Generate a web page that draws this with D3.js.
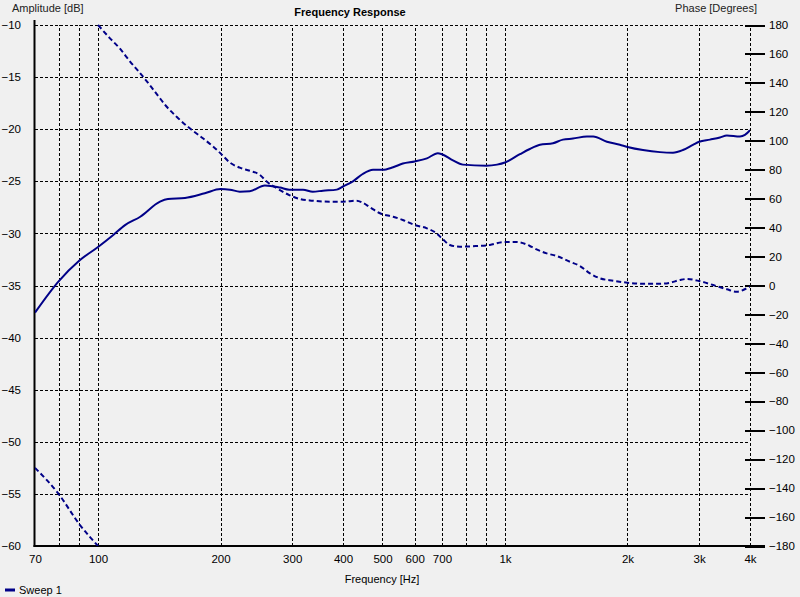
<!DOCTYPE html>
<html><head><meta charset="utf-8">
<script src="https://cdn.jsdelivr.net/npm/d3@7"></script>
<style>
html,body{margin:0;padding:0;background:#f0f0f0;}
svg{display:block;font-family:"Liberation Sans",Arial,sans-serif;}
</style></head>
<body><svg id="c" width="800" height="597"></svg>
<script>
// ---- data ----
const ampFreq = [70,80,90,100,109,116.5,127,142,148.5,163.5,183,200,211,223,236,257,280,295,319,337,357,386,400,423,447,474,500,531,561,600,643,684,700,745,788,900,956,1000,1088,1151,1219,1312,1388,1469,1590,1647,1780,1916,2000,2183,2403,2587,2736,2896,3000,3189,3374,3509,3779,3887,4000];
const ampDb = [-37.6,-34.6,-32.6,-31.3,-30.15,-29.2,-28.4,-26.95,-26.7,-26.6,-26.15,-25.75,-25.8,-26.0,-25.96,-25.4,-25.6,-25.8,-25.8,-26.0,-25.9,-25.8,-25.5,-25.0,-24.3,-23.9,-23.9,-23.65,-23.3,-23.1,-22.8,-22.3,-22.4,-23.0,-23.4,-23.5,-23.4,-23.2,-22.4,-21.9,-21.5,-21.35,-21.0,-20.9,-20.7,-20.7,-21.2,-21.5,-21.7,-22.0,-22.2,-22.25,-22.0,-21.5,-21.2,-21.0,-20.8,-20.6,-20.7,-20.55,-20.1];

const phaseLowFreq = [70,80,90,100];
const phaseLowDeg = [-126,-144,-165,-180];

const phaseFreq = [100,107,113,120,127,134,142,147.5,156,168,181,192,200,211,223,236,250,260,275,295,313,337,371,400,432,447,466,493,531,561,600,643,679,700,732,775,852,918,990,1068,1151,1173,1266,1339,1444,1528,1617,1711,1846,2000,2183,2403,2543,2691,2795,3000,3248,3509,3709,3923,4000];
const phaseDeg = [180,170.8,163.9,154.6,146.6,138.5,129.3,123.5,116.6,108.6,101.7,95.9,91.3,84.9,81.4,79.3,76.4,71.7,67.2,62.5,59.8,58.6,57.9,57.9,58.6,57.2,54,49.9,47.5,45.3,41.8,39.5,36,32.6,28,26.8,27.3,28,30,30,27.3,26.1,22.2,20.4,16.4,13.5,8.4,5.0,3.3,1.9,1.2,1.2,1.9,3.8,4.5,3.1,0.3,-2.6,-4.3,-2.0,-0.8];

const gridFreq = [80,90,100,200,300,400,500,600,700,800,900,1000,2000,3000,4000];
const labelFreq = [70,100,200,300,400,500,600,700,1000,2000,3000,4000];
const ampTicks = [-10,-15,-20,-25,-30,-35,-40,-45,-50,-55,-60];
const phaseTicks = d3.range(-180,181,20);

const titles = {main:"Frequency Response", left:"Amplitude [dB]", right:"Phase [Degrees]", x:"Frequency [Hz]", legend:"Sweep 1"};

// ---- layout ----
const L=35, R=750, T=25, B=546;
const FS = "11.5px";
const svg = d3.select("#c");
const x = d3.scaleLog().domain([70,4000]).range([L,R]);
const yA = d3.scaleLinear().domain([-60,-10]).range([B,T]);
const yP = d3.scaleLinear().domain([-180,180]).range([B,T]);
const navy = "#000088";

svg.append("defs").append("clipPath").attr("id","clip")
  .append("rect").attr("x",L).attr("y",T-1).attr("width",R-L).attr("height",B-T+1);

// gridlines
const gx = svg.append("g").attr("transform",`translate(0,${B})`)
  .call(d3.axisBottom(x).tickValues(gridFreq).tickSize(-(B-T)).tickFormat(""));
gx.select(".domain").remove();
gx.selectAll("line").attr("stroke","#000").attr("stroke-dasharray","3,2").attr("shape-rendering","crispEdges");

const gy = svg.append("g").attr("transform",`translate(${L},0)`)
  .call(d3.axisLeft(yA).tickValues(ampTicks.filter(v=>v>-60)).tickSize(-(R-L)).tickFormat(""));
gy.select(".domain").remove();
gy.selectAll("line").attr("stroke","#000").attr("stroke-dasharray","3,2").attr("shape-rendering","crispEdges");

// left labels
const ly = svg.append("g").attr("transform",`translate(21,0)`)
  .call(d3.axisLeft(yA).tickValues(ampTicks).tickSize(0).tickPadding(0));
ly.select(".domain").remove();
ly.selectAll("text").attr("font-size",FS).attr("fill","#000").attr("font-family","Liberation Sans, Arial, sans-serif");

// right axis ticks + labels
const ry = svg.append("g").attr("transform",`translate(745,0)`)
  .call(d3.axisRight(yP).tickValues(phaseTicks).tickSize(20).tickPadding(4).tickFormat(d3.format("d")));
ry.select(".domain").remove();
ry.selectAll("line").attr("stroke","#000").attr("stroke-width",2).attr("shape-rendering","crispEdges");
ry.selectAll("text").attr("font-size",FS).attr("fill","#000").attr("font-family","Liberation Sans, Arial, sans-serif");

// bottom labels
const fmt = d => d>=1000 ? (d/1000)+"k" : String(d);
const bx = svg.append("g").attr("transform",`translate(0,${B})`)
  .call(d3.axisBottom(x).tickValues(labelFreq).tickSize(0).tickPadding(9).tickFormat(fmt));
bx.select(".domain").remove();
bx.selectAll("text").attr("font-size",FS).attr("fill","#000").attr("font-family","Liberation Sans, Arial, sans-serif");

// axis lines
svg.append("line").attr("x1",L-0.5).attr("x2",L-0.5).attr("y1",20).attr("y2",B+1)
  .attr("stroke","#000").attr("stroke-width",2);
svg.append("line").attr("x1",L-1.5).attr("x2",765).attr("y1",B).attr("y2",B)
  .attr("stroke","#000").attr("stroke-width",2);

// curves
const plot = svg.append("g").attr("clip-path","url(#clip)");
const ampData = ampFreq.map((f,i)=>[f,ampDb[i]]);
const lineA = d3.line().x(d=>x(d[0])).y(d=>yA(d[1])).curve(d3.curveMonotoneX);
const lineP = d3.line().x(d=>x(d[0])).y(d=>yP(d[1])).curve(d3.curveMonotoneX);
plot.append("path").datum(ampData).attr("d",lineA).attr("fill","none")
  .attr("stroke",navy).attr("stroke-width",2);
plot.append("path").datum(phaseLowFreq.map((f,i)=>[f,phaseLowDeg[i]])).attr("d",lineP).attr("fill","none")
  .attr("stroke",navy).attr("stroke-width",2).attr("stroke-dasharray","5,3");
plot.append("path").datum(phaseFreq.map((f,i)=>[f,phaseDeg[i]])).attr("d",lineP).attr("fill","none")
  .attr("stroke",navy).attr("stroke-width",2).attr("stroke-dasharray","5,3");

// titles
svg.append("text").attr("x",12).attr("y",12).attr("font-size","11px").attr("fill","#222").text(titles.left);
svg.append("text").attr("x",350).attr("y",16).attr("text-anchor","middle").attr("font-size","11px").attr("font-weight","bold").attr("fill","#000").text(titles.main);
svg.append("text").attr("x",757).attr("y",12).attr("text-anchor","end").attr("font-size","11px").attr("fill","#222").text(titles.right);
svg.append("text").attr("x",382).attr("y",583).attr("text-anchor","middle").attr("font-size","11px").attr("fill","#000").text(titles.x);
// legend
svg.append("line").attr("x1",5).attr("x2",15).attr("y1",590).attr("y2",590).attr("stroke",navy).attr("stroke-width",3);
svg.append("text").attr("x",19).attr("y",594).attr("font-size","11px").attr("fill","#000").text(titles.legend);
</script></body></html>
